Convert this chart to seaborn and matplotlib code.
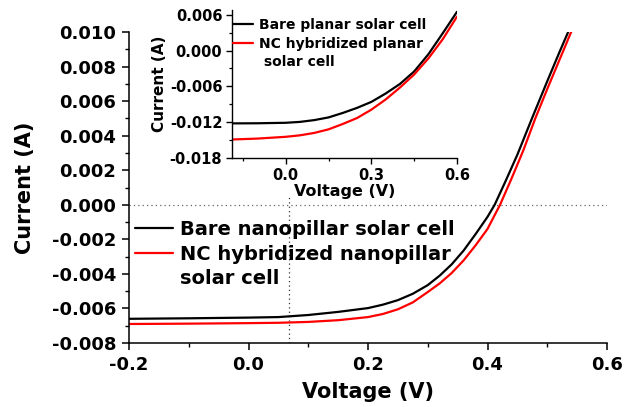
import matplotlib
matplotlib.use("Agg")
import matplotlib.pyplot as plt
from matplotlib.lines import Line2D
from matplotlib.ticker import MultipleLocator
import seaborn as sns
import pandas as pd

# ---- main panel data (nanopillar cells) ----
main_v_bare = [-0.20, -0.10, 0.00, 0.05, 0.10, 0.15, 0.20, 0.225, 0.25, 0.275, 0.30, 0.32, 0.34, 0.36, 0.38, 0.40, 0.412, 0.43, 0.45, 0.475, 0.50, 0.52, 0.535, 0.545]
main_i_bare = [-0.00660, -0.00657, -0.00653, -0.00650, -0.00638, -0.00620, -0.00598, -0.00578, -0.00552, -0.00515, -0.00465, -0.00410, -0.00345, -0.00265, -0.00170, -0.00070, 0.0, 0.00135, 0.00290, 0.00505, 0.00715, 0.00880, 0.01000, 0.01080]
main_v_nc = [-0.20, -0.10, 0.00, 0.05, 0.10, 0.15, 0.20, 0.225, 0.25, 0.275, 0.30, 0.32, 0.34, 0.36, 0.38, 0.40, 0.421, 0.44, 0.46, 0.48, 0.50, 0.52, 0.54, 0.55]
main_i_nc = [-0.00690, -0.00688, -0.00685, -0.00683, -0.00678, -0.00668, -0.00650, -0.00632, -0.00605, -0.00565, -0.00505, -0.00455, -0.00395, -0.00322, -0.00235, -0.00140, 0.0, 0.00150, 0.00315, 0.00500, 0.00670, 0.00835, 0.01000, 0.01080]

# ---- inset data (planar cells) ----
ins_v_bare = [-0.19, -0.10, 0.00, 0.05, 0.10, 0.15, 0.20, 0.25, 0.30, 0.35, 0.40, 0.45, 0.50, 0.55, 0.60]
ins_i_bare = [-0.0122, -0.01218, -0.0121, -0.01195, -0.01165, -0.0112, -0.01045, -0.0096, -0.0086, -0.0072, -0.0056, -0.0035, -0.0006, 0.0029, 0.0065]
ins_v_nc = [-0.19, -0.10, -0.05, 0.00, 0.05, 0.10, 0.15, 0.20, 0.25, 0.30, 0.35, 0.40, 0.45, 0.50, 0.55, 0.60]
ins_i_nc = [-0.0149, -0.01475, -0.0146, -0.01445, -0.0142, -0.0138, -0.0132, -0.0123, -0.0113, -0.0099, -0.0082, -0.0062, -0.0040, -0.0013, 0.0019, 0.0057]

main_labels = ["Bare nanopillar solar cell", "NC hybridized nanopillar", "solar cell"]
inset_labels = ["Bare planar solar cell", "NC hybridized planar", " solar cell"]
main_xticks = [-0.2, 0.0, 0.2, 0.4, 0.6]
main_yticks = [-0.008, -0.006, -0.004, -0.002, 0.000, 0.002, 0.004, 0.006, 0.008, 0.010]
inset_xticks = [0.0, 0.3, 0.6]
inset_yticks = [-0.018, -0.012, -0.006, 0.000, 0.006]
vline_x = 0.068

sns.set_style("ticks")
plt.rcParams['font.family'] = ['DejaVu Sans']
plt.rcParams['font.weight'] = 'bold'
plt.rcParams['axes.labelweight'] = 'bold'
for k in ['text.color', 'axes.labelcolor', 'xtick.color', 'ytick.color', 'axes.edgecolor']:
    plt.rcParams[k] = 'black'

fig = plt.figure(figsize=(6.25, 4.07), dpi=100)
ax = fig.add_axes([129/625, 1-343/407, (607-129)/625, (343-32)/407])

df_mb = pd.DataFrame({"V": main_v_bare, "I": main_i_bare})
df_mn = pd.DataFrame({"V": main_v_nc, "I": main_i_nc})
sns.lineplot(data=df_mb, x="V", y="I", ax=ax, color="black", lw=1.6, estimator=None, sort=False)
sns.lineplot(data=df_mn, x="V", y="I", ax=ax, color="#ff0000", lw=1.6, estimator=None, sort=False)

ax.axhline(0, color="#666666", lw=0.9, ls=(0, (1, 2.5)), zorder=0)
ax.axvline(vline_x, ymin=0, ymax=(0.0005 + 0.008) / 0.018, color="#333333", lw=0.9, ls=(0, (1, 2.5)), zorder=0)

ax.set_xlim(-0.2, 0.6)
ax.set_ylim(-0.008, 0.010)
ax.set_xticks(main_xticks)
ax.set_yticks(main_yticks)
ax.set_xticklabels([f"{t:.1f}" for t in main_xticks])
ax.set_yticklabels([f"{t:.3f}" for t in main_yticks])
ax.xaxis.set_minor_locator(MultipleLocator(0.1))
ax.yaxis.set_minor_locator(MultipleLocator(0.001))
ax.tick_params(which="major", direction="out", length=5, width=1.1, labelsize=13, pad=4)
ax.tick_params(which="minor", direction="out", length=3, width=1.0)
for s in ["top", "right"]:
    ax.spines[s].set_visible(False)
for s in ["left", "bottom"]:
    ax.spines[s].set_linewidth(1.1)
ax.set_xlabel("Voltage (V)", fontsize=15, labelpad=6)
ax.set_ylabel("Current (A)", fontsize=15, labelpad=12.5)

handles = [Line2D([], [], color="black", lw=1.6),
           Line2D([], [], color="#ff0000", lw=1.6),
           Line2D([], [], color="none", lw=0)]
leg = ax.legend(handles, main_labels, loc="upper left", bbox_to_anchor=(0.012, 0.395),
                frameon=False, fontsize=14, handlelength=1.95, handletextpad=0.38,
                labelspacing=0.28, borderpad=0, borderaxespad=0)

# ---- inset ----
ai = fig.add_axes([232/625, 1-158/407, (457-232)/625, (158-10)/407])
ai.set_facecolor("white")
df_ib = pd.DataFrame({"V": ins_v_bare, "I": ins_i_bare})
df_in = pd.DataFrame({"V": ins_v_nc, "I": ins_i_nc})
sns.lineplot(data=df_ib, x="V", y="I", ax=ai, color="black", lw=1.6, estimator=None, sort=False)
sns.lineplot(data=df_in, x="V", y="I", ax=ai, color="#ff0000", lw=1.6, estimator=None, sort=False)
ai.set_xlim(-0.188, 0.6)
ai.set_ylim(-0.018, 0.0068)
ai.set_xticks(inset_xticks)
ai.set_yticks(inset_yticks)
ai.set_xticklabels([f"{t:.1f}" for t in inset_xticks])
ai.set_yticklabels([f"{t:.3f}" for t in inset_yticks])
ai.xaxis.set_minor_locator(MultipleLocator(0.15))
ai.yaxis.set_minor_locator(MultipleLocator(0.003))
ai.tick_params(which="major", direction="out", length=4, width=1.0, labelsize=10.5, pad=3)
ai.tick_params(which="minor", direction="out", length=2.5, width=0.9)
for s in ["top", "right"]:
    ai.spines[s].set_visible(False)
for s in ["left", "bottom"]:
    ai.spines[s].set_linewidth(1.0)
ai.set_xlabel("Voltage (V)", fontsize=11.5, labelpad=1)
ai.set_ylabel("Current (A)", fontsize=11, labelpad=2)
ih = [Line2D([], [], color="black", lw=1.6),
      Line2D([], [], color="#ff0000", lw=1.6),
      Line2D([], [], color="none", lw=0)]
ai.legend(ih, inset_labels, loc="upper left", bbox_to_anchor=(0.004, 0.946),
          frameon=False, fontsize=10, handlelength=1.45, handletextpad=0.4,
          labelspacing=0.34, borderpad=0, borderaxespad=0)

fig.savefig("out.png", dpi=100)
